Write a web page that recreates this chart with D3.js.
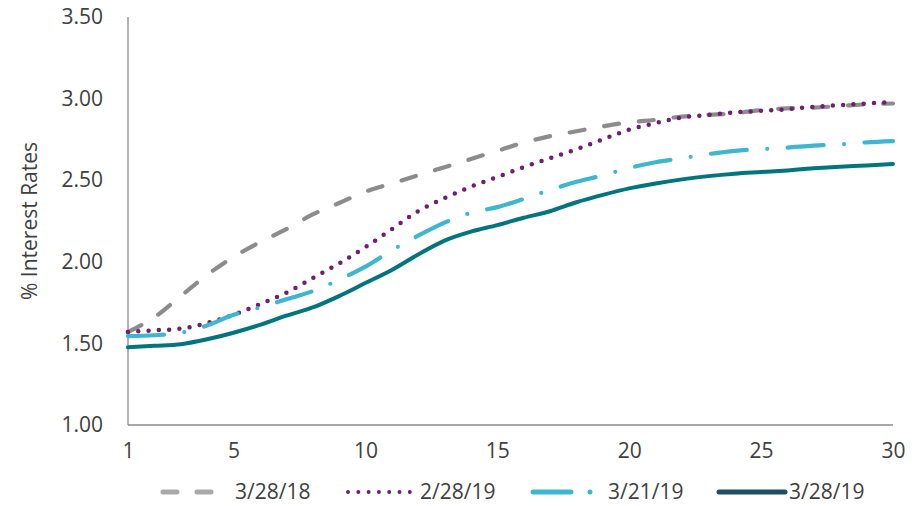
<!DOCTYPE html>
<html>
<head>
<meta charset="utf-8">
<script src="https://cdn.jsdelivr.net/npm/d3@7"></script>
<style>
  html, body { margin: 0; padding: 0; background: #ffffff; }
  svg { display: block; font-family: "Open Sans", "Noto Sans", sans-serif; }
</style>
</head>
<body>
<svg id="chart" width="922" height="506"></svg>
<script>
// Maturity in years (x) and yield curves for each date
const maturities = d3.range(1, 31);
const seriesNames = ["3/28/18", "2/28/19", "3/21/19", "3/28/19"];
const rates_3_28_18 = [1.57, 1.66, 1.79, 1.92, 2.03, 2.12, 2.20, 2.29, 2.36, 2.43,
                       2.48, 2.53, 2.58, 2.63, 2.68, 2.73, 2.77, 2.80, 2.83, 2.855,
                       2.87, 2.89, 2.90, 2.91, 2.93, 2.94, 2.945, 2.955, 2.965, 2.97];
const rates_2_28_19 = [1.57, 1.58, 1.59, 1.625, 1.675, 1.74, 1.81, 1.90, 1.99, 2.09,
                       2.20, 2.31, 2.39, 2.46, 2.52, 2.58, 2.635, 2.69, 2.75, 2.81,
                       2.85, 2.885, 2.90, 2.915, 2.925, 2.935, 2.95, 2.96, 2.97, 2.98];
const rates_3_21_19 = [1.545, 1.55, 1.565, 1.61, 1.675, 1.72, 1.77, 1.82, 1.89, 1.97,
                       2.07, 2.16, 2.24, 2.30, 2.335, 2.385, 2.44, 2.49, 2.53, 2.575,
                       2.61, 2.635, 2.66, 2.68, 2.69, 2.70, 2.712, 2.72, 2.732, 2.74];
const rates_3_28_19 = [1.476, 1.485, 1.495, 1.525, 1.565, 1.613, 1.67, 1.72, 1.79, 1.87,
                       1.95, 2.045, 2.13, 2.185, 2.225, 2.27, 2.31, 2.365, 2.41, 2.45,
                       2.48, 2.505, 2.525, 2.54, 2.55, 2.56, 2.573, 2.583, 2.59, 2.60];
const yTicks = [1.00, 1.50, 2.00, 2.50, 3.00, 3.50];
const xTicks = [1, 5, 10, 15, 20, 25, 30];
const yTitle = "% Interest Rates";

const allSeries = [rates_3_28_18, rates_2_28_19, rates_3_21_19, rates_3_28_19];

// Line styling per series
const lineColors   = ["#8c8c8c", "#6e1f6f", "#3fb6cf", "#00757e"];
const legendColors = ["#a9a9a9", "#6e1f6f", "#3fb6cf", "#1f4f5c"];
const dashes = ["15,20", "0,10.3", "36,20.5,0,20.5", null];
const widths = [4.2, 4.5, 4.2, 4];

const svg = d3.select("#chart");
const x = d3.scaleLinear().domain([1, 30]).range([128, 893]);
const y = d3.scaleLinear().domain([1, 3.5]).range([425, 17]);

const textColor = "#404040";
const fontFamily = '"Open Sans", "Noto Sans", sans-serif';
const fontSize = "21px";

// Axes
const yAxis = svg.append("g")
  .attr("transform", `translate(${x(1)},0)`)
  .call(d3.axisLeft(y).tickValues(yTicks).tickFormat(d3.format(".2f")).tickSize(0).tickPadding(25));
const xAxis = svg.append("g")
  .attr("transform", `translate(0,${y(1)})`)
  .call(d3.axisBottom(x).tickValues(xTicks).tickFormat(d3.format("d")).tickSize(0).tickPadding(18));
[yAxis, xAxis].forEach(g => {
  g.attr("font-family", fontFamily).attr("font-size", fontSize);
  g.select(".domain").attr("stroke", "#8a8a8a").attr("stroke-width", 1.3);
  g.selectAll("text").attr("fill", textColor);
});
// the vertical axis stops at the top tick
yAxis.select(".domain").attr("d", `M0,${y(3.5)}V${y(1)}`);
xAxis.select(".domain").attr("d", `M${x(1)},0H${x(30)}`);

svg.append("text")
  .attr("transform", `translate(37,221) rotate(-90)`)
  .attr("text-anchor", "middle")
  .attr("fill", textColor)
  .style("font-size", "21px")
  .text(yTitle);

// Yield curves
const line = d3.line()
  .x((d, i) => x(maturities[i]))
  .y(d => y(d))
  .curve(d3.curveMonotoneX);

allSeries.forEach((vals, k) => {
  svg.append("path")
    .datum(vals)
    .attr("d", line)
    .attr("fill", "none")
    .attr("stroke", lineColors[k])
    .attr("stroke-width", widths[k])
    .attr("stroke-linecap", "round")
    .attr("stroke-linejoin", "round")
    .attr("stroke-dasharray", dashes[k]);
});

// Legend
const legendY = 492;
const legendX = [163, 348, 533, 719];
const legendLen = [52, 62, 58, 66];
const legendTextX = [72, 72, 75, 70];
const legendDash = ["14,20", "0,10.3", "38,19,0,19", null];
seriesNames.forEach((name, k) => {
  const g = svg.append("g").attr("transform", `translate(${legendX[k]},${legendY})`);
  g.append("line")
    .attr("x1", 0).attr("x2", legendLen[k])
    .attr("y1", 0).attr("y2", 0)
    .attr("stroke", legendColors[k])
    .attr("stroke-width", k === 1 ? 4 : 5)
    .attr("stroke-linecap", "round")
    .attr("stroke-dasharray", legendDash[k]);
  g.append("text")
    .attr("x", legendTextX[k])
    .attr("y", 0)
    .attr("dy", "0.35em")
    .attr("fill", textColor)
    .style("font-size", "21px")
    .text(name);
});
</script>
</body>
</html>
